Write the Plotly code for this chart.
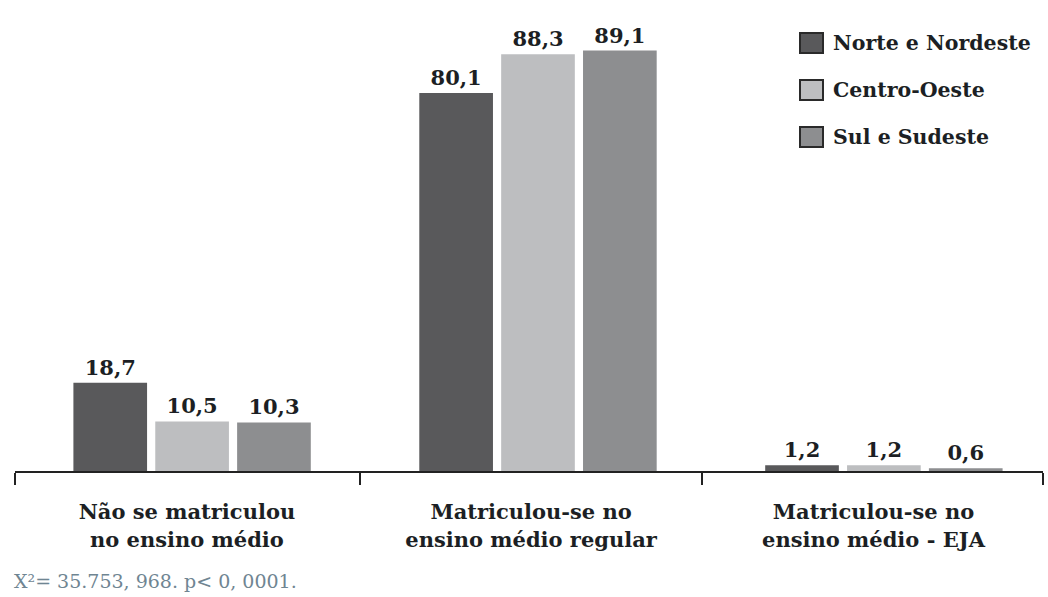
import plotly.graph_objects as go

# Categories and series values (%)
categories = ["Não se matriculou<br>no ensino médio",
              "Matriculou-se no<br>ensino médio regular",
              "Matriculou-se no<br>ensino médio - EJA"]
series_names = ["Norte e Nordeste", "Centro-Oeste", "Sul e Sudeste"]
norte_nordeste = [18.7, 80.1, 1.2]
centro_oeste = [10.5, 88.3, 1.2]
sul_sudeste = [10.3, 89.1, 0.6]
colors = ["#59595b", "#bdbec0", "#8d8e90"]
footnote = "X²= 35.753, 968. p< 0, 0001."

FONT = "DejaVu Serif"
TEXT = "#1c1f24"

def fmt(v):
    return f"{v:.1f}".replace(".", ",")

x_pos = list(range(len(categories)))
fig = go.Figure()
for name, vals, col in zip(series_names, [norte_nordeste, centro_oeste, sul_sudeste], colors):
    fig.add_trace(go.Bar(
        x=x_pos, y=vals, name=name,
        marker=dict(color=col, line=dict(width=0)),
        text=[f"<b>{fmt(v)}</b>" for v in vals], textposition="outside",
        textfont=dict(family=FONT, size=21, color=TEXT),
        cliponaxis=False, showlegend=False,
    ))

# group boundaries and label centres on the category axis
boundaries = [-0.512, 0.486, 1.474, 2.46]
label_pos = [-0.015, 0.98, 1.97]

fig.update_layout(
    width=1048, height=597,
    margin=dict(l=15, r=5, t=1, b=126),
    paper_bgcolor="white", plot_bgcolor="white",
    barmode="group", bargap=0.29, bargroupgap=0.10,
    font=dict(family=FONT, color=TEXT),
    xaxis=dict(
        range=[boundaries[0], boundaries[-1]],
        showgrid=False, zeroline=False,
        showline=True, linecolor="#222", linewidth=2,
        tickmode="array", tickvals=label_pos,
        ticktext=[f"<b>{c}</b>" for c in categories],
        ticks="", ticklabelstandoff=21,
        tickfont=dict(family=FONT, size=21, color=TEXT),
        minor=dict(tickmode="array", tickvals=boundaries, ticks="outside",
                   ticklen=12, tickwidth=2, tickcolor="#222", showgrid=False),
    ),
    yaxis=dict(range=[0, 99.6], visible=False, fixedrange=True),
)

# legend drawn as swatches with labels
leg_y = [43, 90, 137]
for name, col, yy in zip(series_names, colors, leg_y):
    fig.add_shape(type="rect", xref="paper", yref="paper",
                  x0=(800 - 15) / 1028, x1=(823 - 15) / 1028,
                  y0=(471 - yy - 10) / 470, y1=(471 - yy + 10) / 470,
                  fillcolor=col, line=dict(color="#2a2a2a", width=2))
    fig.add_annotation(text=f"<b>{name}</b>", xref="paper", yref="paper",
                       x=(831 - 15) / 1028, y=(471 - yy) / 470,
                       xanchor="left", yanchor="middle", showarrow=False,
                       font=dict(family=FONT, size=20.5, color=TEXT))

fig.add_annotation(text=footnote, xref="paper", yref="paper",
                   x=(12 - 15) / 1028, y=(471 - 581) / 470,
                   xanchor="left", yanchor="middle", showarrow=False,
                   font=dict(family=FONT, size=19, color="#6f8592"))

fig.write_html("out.html")
